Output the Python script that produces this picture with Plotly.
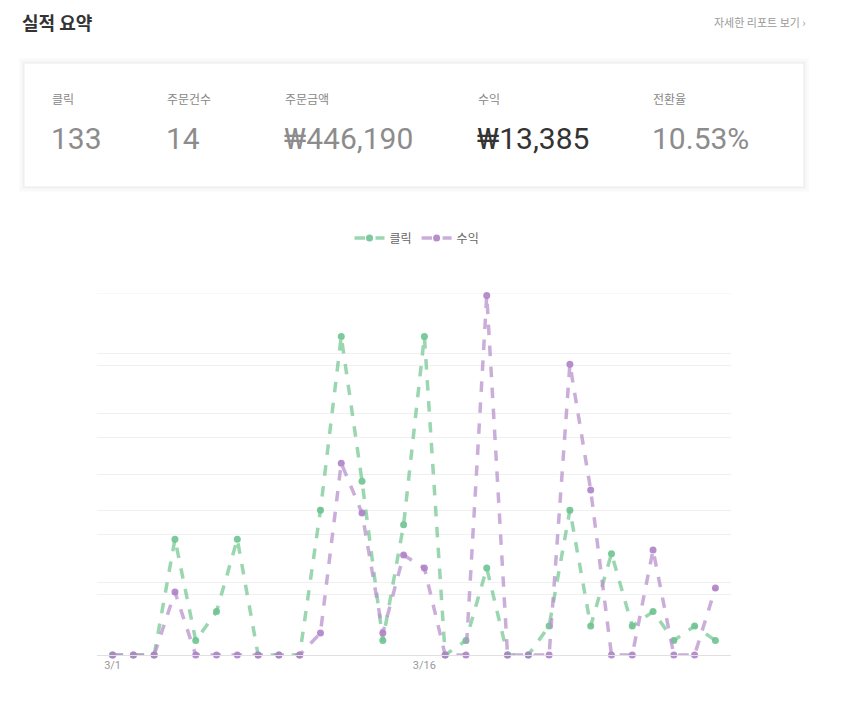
import plotly.graph_objects as go

# Daily performance for the last 30 days
dates = [f"3/{d}" for d in range(1, 31)]
clicks = [0, 0, 0, 8, 1, 3, 8, 0, 0, 0, 10, 22, 12, 1, 9, 22, 0, 1, 6, 0,
          0, 2, 10, 2, 7, 2, 3, 1, 2, 1]
revenue = [0, 0, 0, 522, 0, 0, 0, 0, 0, 0, 183, 1590, 1176, 183, 828, 720, 0, 0,
           2980, 0, 0, 0, 2410, 1368, 0, 0, 870, 0, 0, 555]
tick_dates = [dates[0], dates[15]]
clicks_max = 25
revenue_max = 3000

# Summary card
stat_labels = ["클릭", "주문건수", "주문금액", "수익", "전환율"]
stat_values = ["133", "14", "₩446,190", "₩13,385", "10.53%"]

W, H = 864, 710
FONT = "Roboto, 'Noto Sans CJK KR', sans-serif"
KFONT = "'Noto Sans CJK KR', Roboto, sans-serif"
GRID = "#f0f0f0"


def px(x):
    return x / W


def py(y):
    return 1 - y / H


GREEN = "rgba(120, 200, 150, 0.75)"
GREEN_M = "rgba(110, 195, 145, 0.9)"
PURPLE = "rgba(185, 145, 205, 0.75)"
PURPLE_M = "rgba(175, 130, 200, 0.9)"

fig = go.Figure()
fig.add_trace(go.Scatter(
    x=dates, y=clicks, name="클릭", mode="lines+markers",
    line=dict(color=GREEN, width=3.5, dash="dash"),
    marker=dict(color=GREEN_M, size=7),
    yaxis="y", cliponaxis=False,
))
fig.add_trace(go.Scatter(
    x=dates, y=revenue, name="수익", mode="lines+markers",
    line=dict(color=PURPLE, width=3.5, dash="dash"),
    marker=dict(color=PURPLE_M, size=7),
    yaxis="y2", cliponaxis=False,
))

# soft shadow around the summary card, then the card itself
shapes = []
for grow, shade in [(5, "#fbfbfb"), (3, "#f7f7f7"), (1, "#f1f1f1")]:
    shapes.append(dict(type="rect", xref="paper", yref="paper",
                       x0=px(24 - grow), x1=px(804 + grow),
                       y0=py(187 + grow), y1=py(63 - grow),
                       fillcolor=shade, line=dict(width=0), layer="below"))
shapes.append(dict(type="rect", xref="paper", yref="paper",
                   x0=px(24), x1=px(804), y0=py(187), y1=py(63),
                   fillcolor="white", line=dict(color="#ececec", width=1),
                   layer="below"))
# top grid line at the axis maximum
shapes.append(dict(type="line", xref="x domain", yref="y",
                   x0=0, x1=1, y0=clicks_max, y1=clicks_max,
                   line=dict(color=GRID, width=1), layer="below"))

annotations = [
    dict(text="<b>실적 요약</b>", x=px(20), y=py(22), xref="paper", yref="paper",
         xanchor="left", yanchor="middle", showarrow=False,
         font=dict(family=KFONT, size=18, color="#333")),
    dict(text="자세한 리포트 보기 ›", x=px(808), y=py(22), xref="paper", yref="paper",
         xanchor="right", yanchor="middle", showarrow=False,
         font=dict(family=KFONT, size=11, color="#999")),
]

stat_x = [50, 165, 283, 476, 651]
for i, (lab, val) in enumerate(zip(stat_labels, stat_values)):
    main = lab == "수익"
    annotations.append(dict(
        text=lab, x=px(stat_x[i]), y=py(98), xref="paper", yref="paper",
        xanchor="left", yanchor="middle", showarrow=False,
        font=dict(family=KFONT, size=12, color="#888")))
    annotations.append(dict(
        text=val, x=px(stat_x[i] - 1), y=py(139), xref="paper", yref="paper",
        xanchor="left", yanchor="middle", showarrow=False,
        font=dict(family=FONT, size=30, color="#333" if main else "#8c8c8c")))

fig.update_layout(
    width=W, height=H, autosize=False,
    margin=dict(l=0, r=0, t=0, b=0),
    paper_bgcolor="white", plot_bgcolor="white",
    font=dict(family=FONT, color="#666"),
    showlegend=True,
    legend=dict(orientation="h", x=px(417), xanchor="center", y=py(238), yanchor="middle",
                font=dict(family=KFONT, size=12, color="#666"),
                itemwidth=30, bgcolor="rgba(0,0,0,0)"),
    xaxis=dict(domain=[px(97), px(731)], range=[-0.75, 29.75],
               tickvals=tick_dates, ticktext=tick_dates,
               showgrid=False, zeroline=False,
               showline=True, linecolor="#e0e0e0", linewidth=1,
               ticks="", tickfont=dict(size=11, color="#999")),
    yaxis=dict(domain=[py(655), py(293)], range=[0, clicks_max], dtick=5,
               showticklabels=False, gridcolor=GRID, zeroline=False,
               showline=False, fixedrange=True),
    yaxis2=dict(overlaying="y", side="right", range=[0, revenue_max], dtick=500,
                showticklabels=False, gridcolor=GRID, zeroline=False,
                showline=False, fixedrange=True),
    shapes=shapes,
    annotations=annotations,
    hovermode="x",
)

fig.write_html("out.html", config={"displayModeBar": False})
